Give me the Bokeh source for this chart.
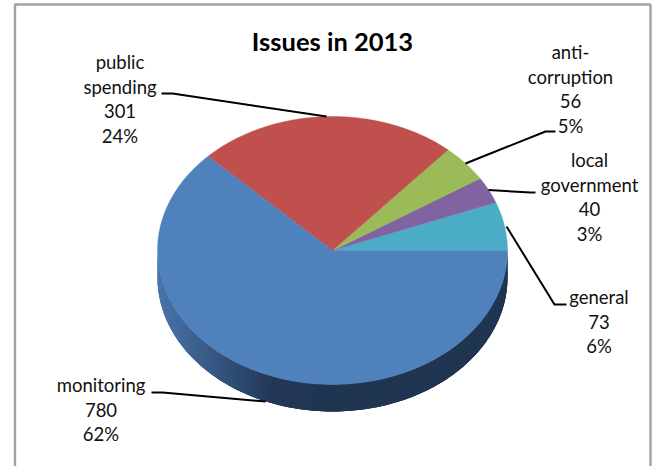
import math
import numpy as np
from bokeh.plotting import figure
from bokeh.core.properties import value
from bokeh.embed import file_html
from bokeh.resources import INLINE

# Data, in drawing order, counter-clockwise from the east
categories = ["general", "local government", "anti-corruption", "public spending", "monitoring"]
counts = [73, 40, 56, 301, 780]
pct_labels = ["6%", "3%", "5%", "24%", "62%"]
colors = ["#4bacc6", "#8064a2", "#9bbb59", "#c0504d", "#4f81bd"]
title = "Issues in 2013"

# Layout (in page pixels)
W, H = 654, 466
CX, CY, RX, RY, DEPTH = 332, 250, 175, 134, 27
FONT = "Lato"

p = figure(width=W, height=H, x_range=(0, W), y_range=(H, 0),
           output_backend="svg", toolbar_location=None, min_border=0,
           margin=(0, 0, 0, 0))
p.axis.visible = False
p.grid.visible = False
p.outline_line_color = None
p.background_fill_color = "white"
p.border_fill_color = "white"

# Chart frame
p.line([14.5, 14.5, 650, 650], [H + 5, 4, 4, H + 5], line_color="#a3a3a3", line_width=2.4)


def ell(a):
    return CX + RX * np.cos(a), CY - RY * np.sin(a)


# Side wall of the lower half, as narrow overlapping shaded strips
STOPS_X = [157, 200, 267, 327]
STOPS_RGB = np.array([[0x4a, 0x76, 0xa9], [0x3a, 0x5e, 0x8b], [0x24, 0x39, 0x5a], [0x1f, 0x35, 0x50]])
edges = np.linspace(math.pi, 2 * math.pi, 121)
for a0 in edges[:-1]:
    a1 = min(a0 + 3 * (edges[1] - edges[0]), 2 * math.pi)
    t = np.linspace(a0, a1, 4)
    x, y = ell(t)
    xm = x[0]
    rgb = [int(np.interp(xm, STOPS_X, STOPS_RGB[:, i])) for i in range(3)]
    col = "#%02x%02x%02x" % tuple(rgb)
    p.patch([*x, *x[::-1]], [*y, *(y[::-1] + DEPTH)], fill_color=col, line_color=None)

# Top face
total = sum(counts)
start = 0.0
for n, col in zip(counts, colors):
    end = start + n / total * 2 * math.pi
    t = np.linspace(start, end, max(4, int((end - start) * 90)))
    xs, ys = ell(t)
    p.patch([CX, *xs, CX], [CY, *ys, CY], fill_color=col, line_color=col, line_width=0.4)
    start = end

# Leader lines
leaders = [
    ([161, 172, 326], [93, 93, 116]),
    ([555, 545, 465], [131, 131, 163]),
    ([488, 530, 535], [189.5, 192, 192]),
    ([566, 554, 506], [304, 304, 226]),
    ([151, 162, 265], [392, 392, 401]),
]
for xs, ys in leaders:
    p.line(xs, ys, line_color="black", line_width=2)

# Data labels
label_x = [598.5, 589, 570, 119.5, 100.5]
label_first_y = [296.5, 159.5, 51.5, 61.5, 384.5]
label_lines = [
    ["general"],
    ["local", "government"],
    ["anti-", "corruption"],
    ["public", "spending"],
    ["monitoring"],
]
LINE = 24.5
for x, y0, name, n, pc in zip(label_x, label_first_y, label_lines, counts, pct_labels):
    rows = name + [str(n), pc]
    p.text([x] * len(rows), [y0 + i * LINE for i in range(len(rows))], text=rows,
           text_align="center", text_baseline="middle", text_color="#111111",
           text_font=value(FONT), text_font_size="18.5px")

p.text([332], [40], text=[title], text_align="center", text_baseline="middle",
       text_color="black", text_font=value(FONT), text_font_size="25.5px", text_font_style="bold")

open("out.html", "w").write(file_html(p, INLINE))
